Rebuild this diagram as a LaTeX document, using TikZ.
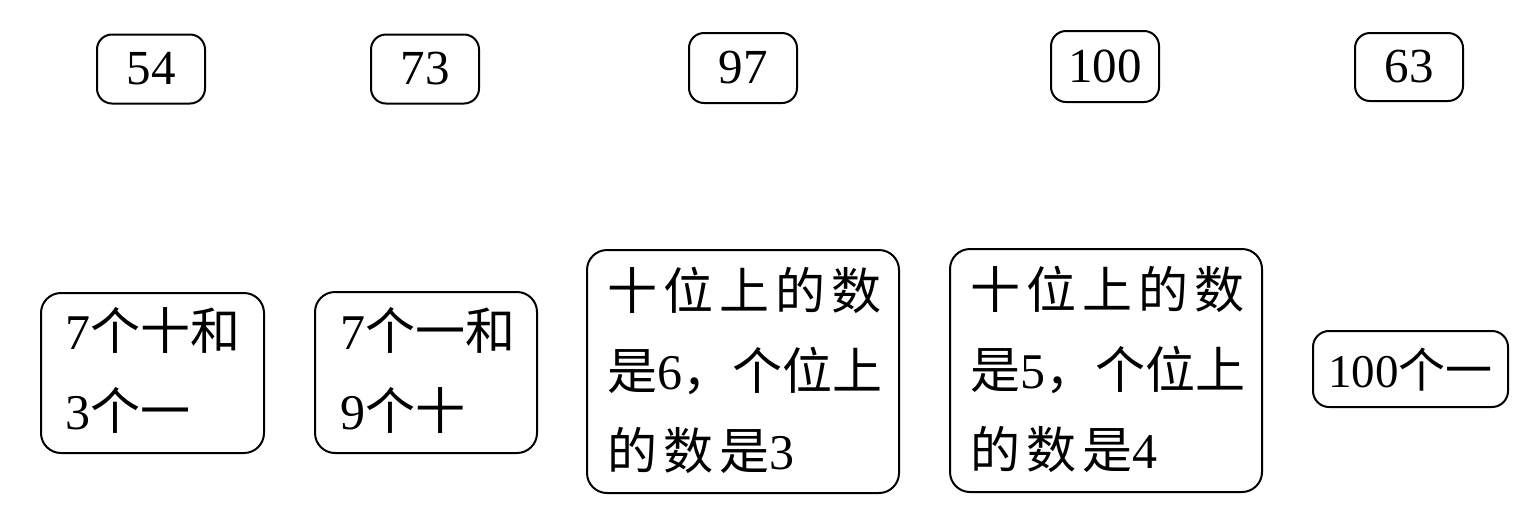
\documentclass[tikz,border=0pt]{standalone}
\usepackage{fontspec}
\setmainfont{Liberation Serif}
\newfontfamily\zhfont{Noto Sans CJK SC}
\newfontfamily\zhwide[LetterSpace=12]{Noto Sans CJK SC}
\newcommand{\zh}[1]{{\zhfont #1}}
\newcommand{\zw}[1]{{\zhwide #1}}
\begin{document}
\begin{tikzpicture}[x=0.5pt,y=-0.5pt,
  numbox/.style={draw,line width=1pt,rounded corners=7.5pt,inner sep=0pt},
  txt/.style={anchor=base west,inner sep=0pt,font=\fontsize{25pt}{30pt}\selectfont},
  num/.style={inner sep=0pt,font=\fontsize{24.5pt}{30pt}\selectfont}]
\useasboundingbox (0,0) rectangle (1534,510);
% top number boxes
\node[numbox,minimum width=54pt,minimum height=34.5pt] (b54) at (151,69) {};
\node[numbox,minimum width=54pt,minimum height=34.5pt] (b73) at (425,69) {};
\node[numbox,minimum width=54pt,minimum height=35pt] (b97) at (743,68) {};
\node[numbox,minimum width=54pt,minimum height=35.5pt] (b100) at (1105,66.5) {};
\node[numbox,minimum width=54pt,minimum height=34pt] (b63) at (1409,67) {};
\node[num] (t54) at (b54.center) {54};
\node[num] (t73) at (b73.center) {73};
\node[num] (t97) at (b97.center) {97};
\node[num] (t100) at (b100.center) {100};
\node[num] (t63) at (b63.center) {63};
% bottom boxes
\draw[line width=1pt,rounded corners=10pt] (41,293) rectangle (264,453);
\node[inner sep=0pt,minimum size=0pt] (c1) at (152,373) {};
\draw[line width=1pt,rounded corners=10pt] (315,292) rectangle (537,453);
\node[inner sep=0pt,minimum size=0pt] (c2) at (426,372) {};
\draw[line width=1pt,rounded corners=10pt] (587,250) rectangle (899,493);
\node[inner sep=0pt,minimum size=0pt] (c3) at (743,371) {};
\draw[line width=1pt,rounded corners=10pt] (950,249) rectangle (1262,492);
\node[inner sep=0pt,minimum size=0pt] (c4) at (1106,370) {};
\draw[line width=1pt,rounded corners=8pt] (1313,331) rectangle (1508,407);
\node[inner sep=0pt,minimum size=0pt] (c5) at (1410,369) {};
% texts
\node[txt] (l11) at (65,349) {7\zh{个十和}};
\node[txt] (l12) at (65,429) {3\zh{个一}};
\node[txt] (l21) at (340,349) {7\zh{个一和}};
\node[txt] (l22) at (340,429) {9\zh{个十}};
\node[txt] (l31) at (607,309) {\zw{十位上的数}};
\node[txt] (l32) at (607,389) {\zh{是}6\zh{，个位上}};
\node[txt] (l33) at (607,469) {\zw{的数是}3};
\node[txt] (l41) at (970,308) {\zw{十位上的数}};
\node[txt] (l42) at (970,388) {\zh{是}5\zh{，个位上}};
\node[txt] (l43) at (970,468) {\zw{的数是}4};
\node[txt,font=\fontsize{23.5pt}{30pt}\selectfont] (l51) at (1328,387) {100\zh{个一}};
\end{tikzpicture}
\end{document}
